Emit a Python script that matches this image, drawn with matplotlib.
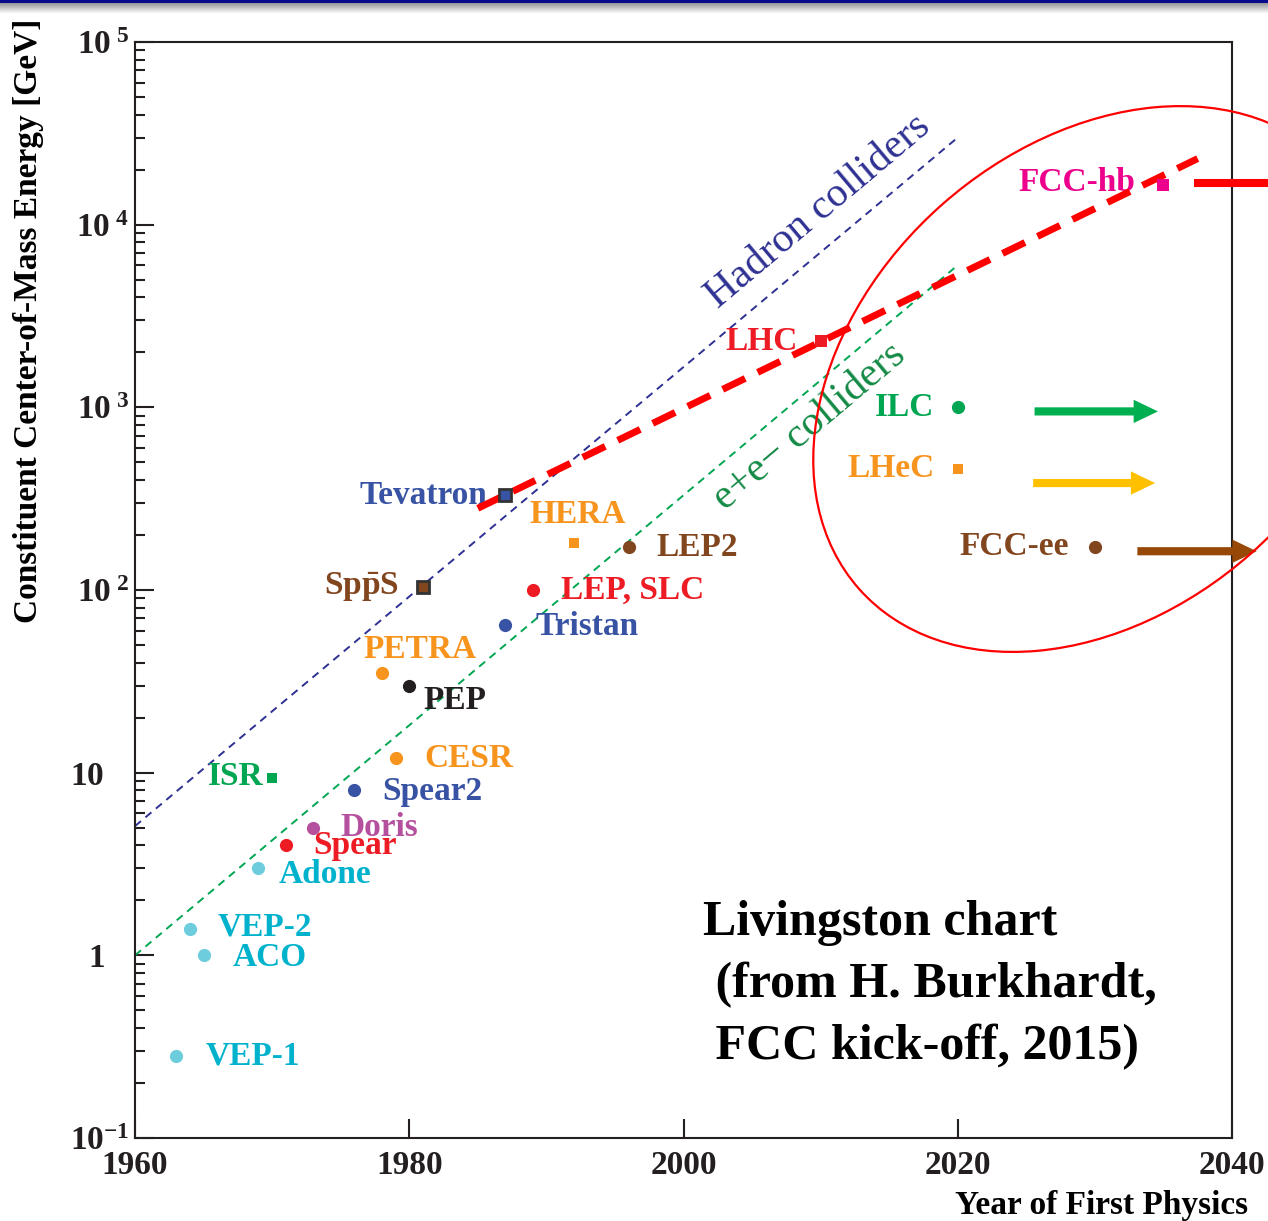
import numpy as np
import matplotlib
matplotlib.use('Agg')
import matplotlib.pyplot as plt
from matplotlib.patches import Ellipse
from matplotlib.transforms import ScaledTranslation
from matplotlib.ticker import FixedLocator, FixedFormatter, LogLocator, NullFormatter

plt.rcParams['font.family'] = ['Liberation Serif', 'DejaVu Serif']
plt.rcParams['font.weight'] = 'bold'
plt.rcParams['mathtext.fontset'] = 'custom'
plt.rcParams['mathtext.rm'] = 'Liberation Serif'
plt.rcParams['mathtext.bf'] = 'Liberation Serif:bold'
plt.rcParams['mathtext.it'] = 'Liberation Serif:italic'

# colliders: year of first physics and constituent c.o.m. energy [GeV]
names = ['VEP-1', 'VEP-2', 'ACO', 'Adone', 'Spear', 'Doris', 'Spear2', 'CESR',
         'ISR', 'PEP', 'PETRA', r'$\mathbf{Sp\bar{p}S}$', 'Tevatron', 'HERA',
         'LEP2', 'LEP, SLC', 'Tristan', 'LHC', 'ILC', 'LHeC', 'FCC-ee', 'FCC-hb']
years = [1963, 1964, 1965, 1969, 1971, 1973, 1976, 1979,
         1970, 1980, 1978, 1981, 1987, 1992,
         1996, 1989, 1987, 2010, 2020, 2020, 2030, 2035]
energies = [0.28, 1.4, 1.0, 3.0, 4.0, 5.0, 8.0, 12.0,
            9.3, 30.0, 35.0, 104.0, 330.0, 180.0,
            172.0, 100.0, 64.0, 2300.0, 1000.0, 460.0, 172.0, 16500.0]

# trend lines
hadron_years = [1960, 2020]
hadron_energy = [5.1, 3.0e4]
ee_years = [1960, 2020]
ee_energy = [1.0, 6.0e3]
trend_years = [1985, 2037.5]
trend_energy = [280.0, 2.3e4]
fcchb_years = [2037.2, 2043.0]
fcchb_energy = [1.7e4, 1.7e4]

# future reach arrows (tail year, tip year, energy)
arrow_tail = [2025.6, 2025.5, 2033.1]
arrow_tip = [2034.6, 2034.4, 2041.8]
arrow_energy = [950.0, 385.0, 163.0]

y_tick_values = [0.1, 1, 10, 100, 1e3, 1e4, 1e5]
y_tick_labels = [r'$\mathbf{10}^{\mathbf{-1}}$', r'$\mathbf{1}$', r'$\mathbf{10}$',
                 r'$\mathbf{10}^{\ \mathbf{2}}$', r'$\mathbf{10}^{\ \mathbf{3}}$',
                 r'$\mathbf{10}^{\ \mathbf{4}}$', r'$\mathbf{10}^{\ \mathbf{5}}$']
x_tick_values = [1960, 1980, 2000, 2020, 2040]

# ---- styling ----
cyan_t, cyan_m = '#00B2CC', '#6DCDDD'
orange = '#F7941D'
blue = '#3953A4'
brown = '#82461F'
red = '#ED1C24'
green = '#00A651'
text_colors = [cyan_t, cyan_t, cyan_t, cyan_t, red, '#B5509E', blue, orange,
               green, '#231F20', orange, brown, blue, orange,
               brown, red, blue, red, green, orange, brown, '#EC008C']
marker_colors = [cyan_m, cyan_m, cyan_m, cyan_m, red, '#B5509E', blue, orange,
                 green, '#231F20', orange, brown, blue, orange,
                 brown, red, blue, red, green, orange, brown, '#EC008C']
marker_shapes = ['o'] * 8 + ['s', 'o', 'o', 's', 's', 's',
                             'o', 'o', 'o', 's', 'o', 's', 'o', 's']
marker_sizes = [9.5] * 8 + [7, 9.5, 9.5, 8.5, 8.5, 7.5,
                            9.5, 9.5, 9.5, 8.5, 9.5, 7.5, 9.5, 8.5]
edge_colors = [None] * 11 + ['#333333', '#333333'] + [None] * 9
# label offsets in pixels (x right, y up) and alignment
label_offsets = [(29, 0), (28, 2), (29, -2), (20, -6), (27, 0), (27, 0), (28, -1), (29, 0),
                 (-9, 2), (14, -15), (-18, 24), (-24, 0), (-18, 0), (-44, 29),
                 (28, -1), (28, 0), (30, -1), (-23, 0), (-24, 0), (-23, 0), (-26, 0), (-28, 2)]
label_ha = ['left'] * 8 + ['right', 'left', 'left', 'right', 'right', 'left',
                           'left', 'left', 'left', 'right', 'right', 'right', 'right', 'right']
arrow_colors = ['#00B050', '#FFC000', '#984806']

W, H = 1268, 1221
fig = plt.figure(figsize=(W / 100, H / 100), dpi=100)
ax = fig.add_axes([135 / W, 1 - 1138 / H, 1097 / W, 1096 / H])

# slide header bar
bar = fig.add_axes([0, 1 - 14 / H, 1, 14 / H])
rows = np.ones((14, 1, 3))
rows[0:3] = np.array([10, 10, 140]) / 255
for i in range(3, 14):
    g = 0.60 + 0.40 * (i - 3) / 10
    rows[i] = [g, g, g]
bar.imshow(rows, aspect='auto', interpolation='nearest', extent=[0, 1, 0, 1])
bar.axis('off')

ax.set_yscale('log')
ax.set_xlim(1960, 2040)
ax.set_ylim(0.1, 1e5)

# trend lines
ax.plot(hadron_years, hadron_energy, color='#2E3192', lw=1.4, dashes=(4, 3), zorder=2)
ax.plot(ee_years, ee_energy, color=green, lw=1.4, dashes=(4, 3), zorder=2)
ax.plot(trend_years, trend_energy, color='#FF0000', lw=5, dashes=(3.6, 2.0),
        solid_capstyle='butt', dash_capstyle='butt', zorder=4)
ax.plot(fcchb_years, fcchb_energy, color='#FF0000', lw=5.8, solid_capstyle='butt',
        clip_on=False, zorder=4)

for i in range(len(names)):
    ax.plot(years[i], energies[i], marker=marker_shapes[i], ms=marker_sizes[i],
            color=marker_colors[i], mec=edge_colors[i] or marker_colors[i],
            mew=2 if edge_colors[i] else 0, ls='none', zorder=5)
    ax.annotate(names[i], (years[i], energies[i]), xytext=label_offsets[i],
                textcoords='offset pixels', ha=label_ha[i], va='center',
                color=text_colors[i], fontsize=24, fontweight='bold', zorder=3)

for t0, t1, e, c in zip(arrow_tail, arrow_tip, arrow_energy, arrow_colors):
    ax.annotate('', xy=(t1, e), xytext=(t0, e), annotation_clip=False,
                arrowprops=dict(arrowstyle='simple,head_length=1.25,head_width=1.2,tail_width=0.42',
                                mutation_scale=14, color=c, shrinkA=0, shrinkB=0, lw=0))

ax.text(2009.8, 1.18e4, 'Hadron colliders', rotation=40, rotation_mode='anchor',
        ha='center', va='center', fontsize=30, fontweight='normal', color='#2E3192')
ax.text(2009.2, 780, 'e+e\u2212 colliders', rotation=40, rotation_mode='anchor',
        ha='center', va='center', fontsize=30, fontweight='normal', color='#138A45')

ax.add_patch(Ellipse((0.8765, 0.6925), 0.578, 0.425, angle=41.5, transform=ax.transAxes,
                     fill=False, edgecolor='#FF0000', lw=1.6, clip_on=False, zorder=4))

note = ['Livingston chart', ' (from H. Burkhardt,', ' FCC kick-off, 2015)']
for k, line in enumerate(note):
    ax.text(0.518, 0.185 - k * 0.0566, line, transform=ax.transAxes, fontsize=36,
            fontweight='bold', color='black', va='baseline', ha='left')

# axes styling
for s in ax.spines.values():
    s.set_linewidth(1.5)
    s.set_color('#231F20')
ax.set_xticks(x_tick_values)
ax.set_xticklabels([str(v) for v in x_tick_values])
ax.yaxis.set_major_locator(FixedLocator(y_tick_values))
ax.yaxis.set_major_formatter(FixedFormatter(y_tick_labels))
ax.yaxis.set_minor_locator(LogLocator(base=10, subs=np.arange(2, 10), numticks=20))
ax.yaxis.set_minor_formatter(NullFormatter())
ax.tick_params(axis='both', which='major', direction='in', length=14, width=1.5,
               labelsize=24, colors='#231F20')
ax.tick_params(axis='y', which='major', pad=4)
ax.tick_params(axis='x', which='major', pad=9)
ax.tick_params(axis='y', which='minor', direction='in', length=7, width=1.5, colors='#231F20')
for lab in ax.get_xticklabels():
    lab.set_fontweight('bold')

# labels without exponent sit where the base "10" of the others sits
shift = ScaledTranslation(-25 / 100, 0, fig.dpi_scale_trans)
for tick in ax.yaxis.get_major_ticks()[1:3]:
    tick.label1.set_transform(tick.label1.get_transform() + shift)

ax.set_xlabel('Year of First Physics', fontsize=24, fontweight='bold', loc='right')
ax.xaxis.set_label_coords(1.0146, -0.047)
ax.set_ylabel('Constituent Center-of-Mass Energy [GeV]', fontsize=24, fontweight='bold', loc='top')
ax.yaxis.set_label_coords(-0.083, 1.021)

fig.savefig('out.png', dpi=100)
